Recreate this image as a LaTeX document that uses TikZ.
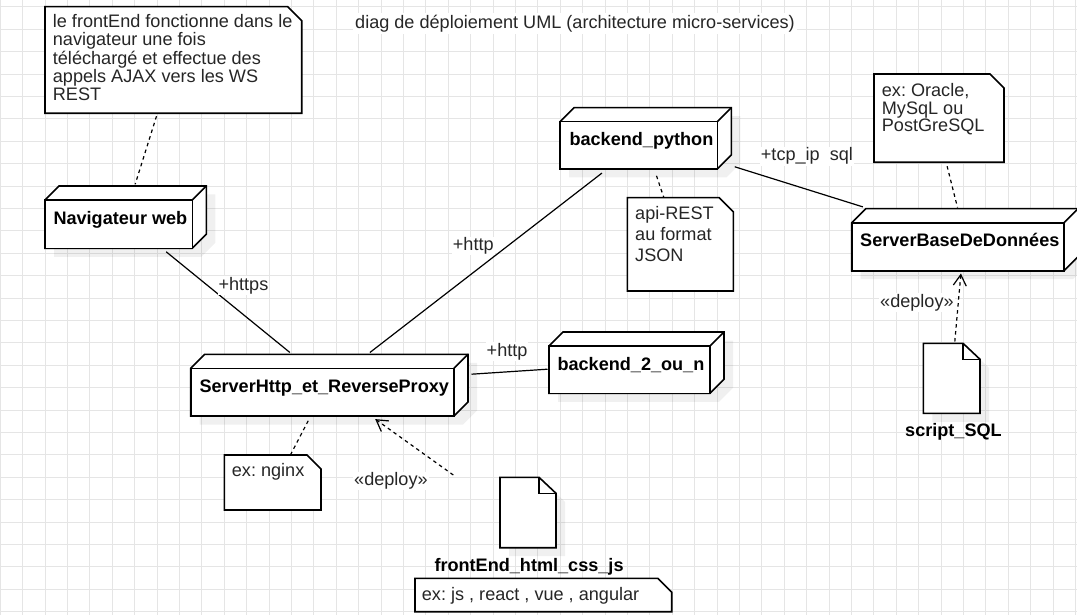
\documentclass[tikz,border=0pt]{standalone}
\usepackage{fontspec}
\setmainfont{Liberation Sans}
\usetikzlibrary{calc,fit,arrows.meta}

\tikzset{
  gridline/.style={draw=black!10, line width=1.1pt},
  shadowfill/.style={fill=black, opacity=0.06},
  shapeline/.style={draw=black, line width=1.6pt},
  frontbox/.style={draw=black, line width=1.6pt, fill=white, inner sep=0pt},
  namebox/.style={inner sep=0pt},
  boxtext/.style={anchor=base west, inner sep=0pt, font=\bfseries\fontsize{18.1pt}{21pt}\selectfont, text=black},
  notetext/.style={anchor=north west, inner sep=0pt, align=left, text=black!85},
  lbl/.style={anchor=base west, inner sep=1pt, fill=white, text=black!85},
  conn/.style={draw=black, line width=1.2pt},
  dashconn/.style={conn, dash pattern=on 3.5pt off 3.5pt},
  deployarrow/.style={dashconn, -{Straight Barb[length=11pt,width=13pt]}},
}

% 3D deployment node: name, x1, y1, x2, y2, text x, text
\newcommand\depbox[7]{%
  \fill[shadowfill] (#2+9,#3+8.5) -- (#2+23,#3-5.5) -- (#4+23,#3-5.5) -- (#4+23,#5-5.5) -- (#4+9,#5+8.5) -- (#2+9,#5+8.5) -- cycle;
  \filldraw[shapeline, fill=white] (#2,#3) -- (#2+14,#3-14) -- (#4+14,#3-14) -- (#4+14,#5-14) -- (#4,#5) -- (#2,#5) -- cycle;
  \draw[shapeline] (#4,#3) -- (#4+14,#3-14);
  \node[frontbox, fit={(#2,#3)(#4,#5)}] (#1) {};
  \node[boxtext] (#1-t) at (#6,#3+24) {#7};
}
% UML note: name, x1, y1, x2, y2
\newcommand\umlnote[5]{%
  \path node[namebox, fit={(#2,#3)(#4,#5)}] (#1) {};
  \filldraw[shapeline, fill=white] (#2,#3) -- (#4-14,#3) -- (#4,#3+14) -- (#4,#5) -- (#2,#5) -- cycle;
}
% artifact (file): name, x1, y1, x2, y2
\newcommand\artifact[5]{%
  \fill[shadowfill] (#2+9,#3+8.5) -- (#4-17+9,#3+8.5) -- (#4+9,#3+16+8.5) -- (#4+9,#5+8.5) -- (#2+9,#5+8.5) -- cycle;
  \path node[namebox, fit={(#2,#3)(#4,#5)}] (#1) {};
  \filldraw[shapeline, fill=white] (#2,#3) -- (#4-17,#3) -- (#4,#3+16) -- (#4,#5) -- (#2,#5) -- cycle;
  \draw[shapeline] (#4-17,#3) -- (#4-17,#3+16) -- (#4,#3+16);
}

\begin{document}
\frenchspacing
\begin{tikzpicture}[x=1pt, y=-1pt, font=\fontsize{18.1pt}{21pt}\selectfont]
\fill[white] (0,0) rectangle (1077,615);
\useasboundingbox (0,0) rectangle (1077,615);

% grid
\foreach \i in {0,...,48} \draw[gridline] ({0.3+22.4*\i},0) -- ({0.3+22.4*\i},615);
\foreach \j in {0,...,27} \draw[gridline] (0,{6.9+22.4*\j}) -- (1077,{6.9+22.4*\j});

% title
\node[lbl, inner sep=2pt] (title) at (353,28.3) {diag de déploiement UML (architecture micro-services)};

% notes
\umlnote{n1}{45}{6.7}{301.7}{113.3}
\umlnote{napi}{627.3}{197.7}{733.3}{291}
\umlnote{ndb}{874}{74}{1004}{162.3}
\umlnote{nng}{224.3}{455}{321}{510}
\umlnote{njs}{415}{578.3}{671.7}{611.7}

\node[notetext, font=\fontsize{18.1pt}{18.3pt}\selectfont] (n1-t) at (52.7,14.3)
  {\rule{0pt}{13pt}le frontEnd fonctionne dans le\\navigateur une fois\\téléchargé et effectue des\\appels AJAX vers les WS\\REST};
\node[notetext, font=\fontsize{18.1pt}{21pt}\selectfont] (napi-t) at (635,206)
  {\rule{0pt}{13pt}api-REST\\au format\\JSON};
\node[notetext, font=\fontsize{18.1pt}{17.8pt}\selectfont] (ndb-t) at (881.7,83)
  {\rule{0pt}{13pt}ex: Oracle,\\MySqL ou\\PostGreSQL};
\node[anchor=base west, inner sep=0pt, text=black!85] (nng-t) at (231.7,476) {ex: nginx};
\node[anchor=base west, inner sep=0pt, text=black!85] (njs-t) at (421.7,600) {ex: js , react , vue , angular};

% deployment nodes
\depbox{nav}{45}{200}{192.3}{248.3}{53.3}{Navigateur web}
\depbox{bpy}{560}{121.7}{717.3}{169}{569.3}{backend\_python}
\depbox{srv}{190.7}{368.3}{454}{416}{199.3}{ServerHttp\_et\_ReverseProxy}
\depbox{db}{851.7}{222.7}{1064}{270.7}{860}{ServerBaseDeDonnées}
\depbox{b2}{549}{346}{710}{393.3}{557.3}{backend\_2\_ou\_n}

% artifacts
\artifact{sql}{923.3}{343.3}{980}{413.3}
\artifact{fe}{500}{477.3}{556}{547.7}
\node[boxtext] (sql-t) at (905,436.7) {script\_SQL};
\node[boxtext] (fe-t) at (434.3,571.7) {frontEnd\_html\_css\_js};

% connectors
\draw[dashconn] ($(n1.south west)+(111.7,2.7)$) -- ($(nav.north west)+(91,-15)$);
\draw[conn] ($(nav.south west)+(122,2.7)$) -- ($(srv.north west)+(100,-15)$);
\draw[conn] ($(bpy.south west)+(42.7,3.3)$) -- ($(srv.north west)+(180,-15)$);
\draw[conn] ($(bpy.south east)+(16.7,-3)$) -- ($(db.north west)+(12,-15)$);
\draw[conn] ($(srv.north east)+(16.7,6.7)$) -- ($(b2.north west)+(-0.7,24)$);
\draw[dashconn] ($(bpy.south west)+(97.3,6)$) -- ($(napi.north west)+(36.7,0)$);
\draw[dashconn] ($(ndb.south west)+(73.3,3.7)$) -- ($(db.north west)+(106.6,-14.4)$);
\draw[deployarrow] ($(sql.north west)+(31.7,-1.6)$) -- ($(db.south west)+(110,2)$);
\draw[dashconn] ($(srv.south west)+(118.3,4)$) -- ($(nng.north west)+(66.4,0)$);
\coordinate (dstart) at (453.3,475);
\draw[deployarrow] (dstart) -- ($(srv.south west)+(185.3,2.3)$);

% connector labels
\node[lbl] (l-https) at (217.3,290) {+https};
\node[lbl] (l-http1) at (451.7,250.7) {+http};
\node[lbl] (l-tcp) at (759.7,161) {+tcp\_ip\hspace{10pt}sql};
\node[lbl] (l-http2) at (485.5,356) {+http};
\node[lbl] (l-dep1) at (353,485.7) {«deploy»};
\node[lbl] (l-dep2) at (879,307.3) {«deploy»};
\end{tikzpicture}
\end{document}
